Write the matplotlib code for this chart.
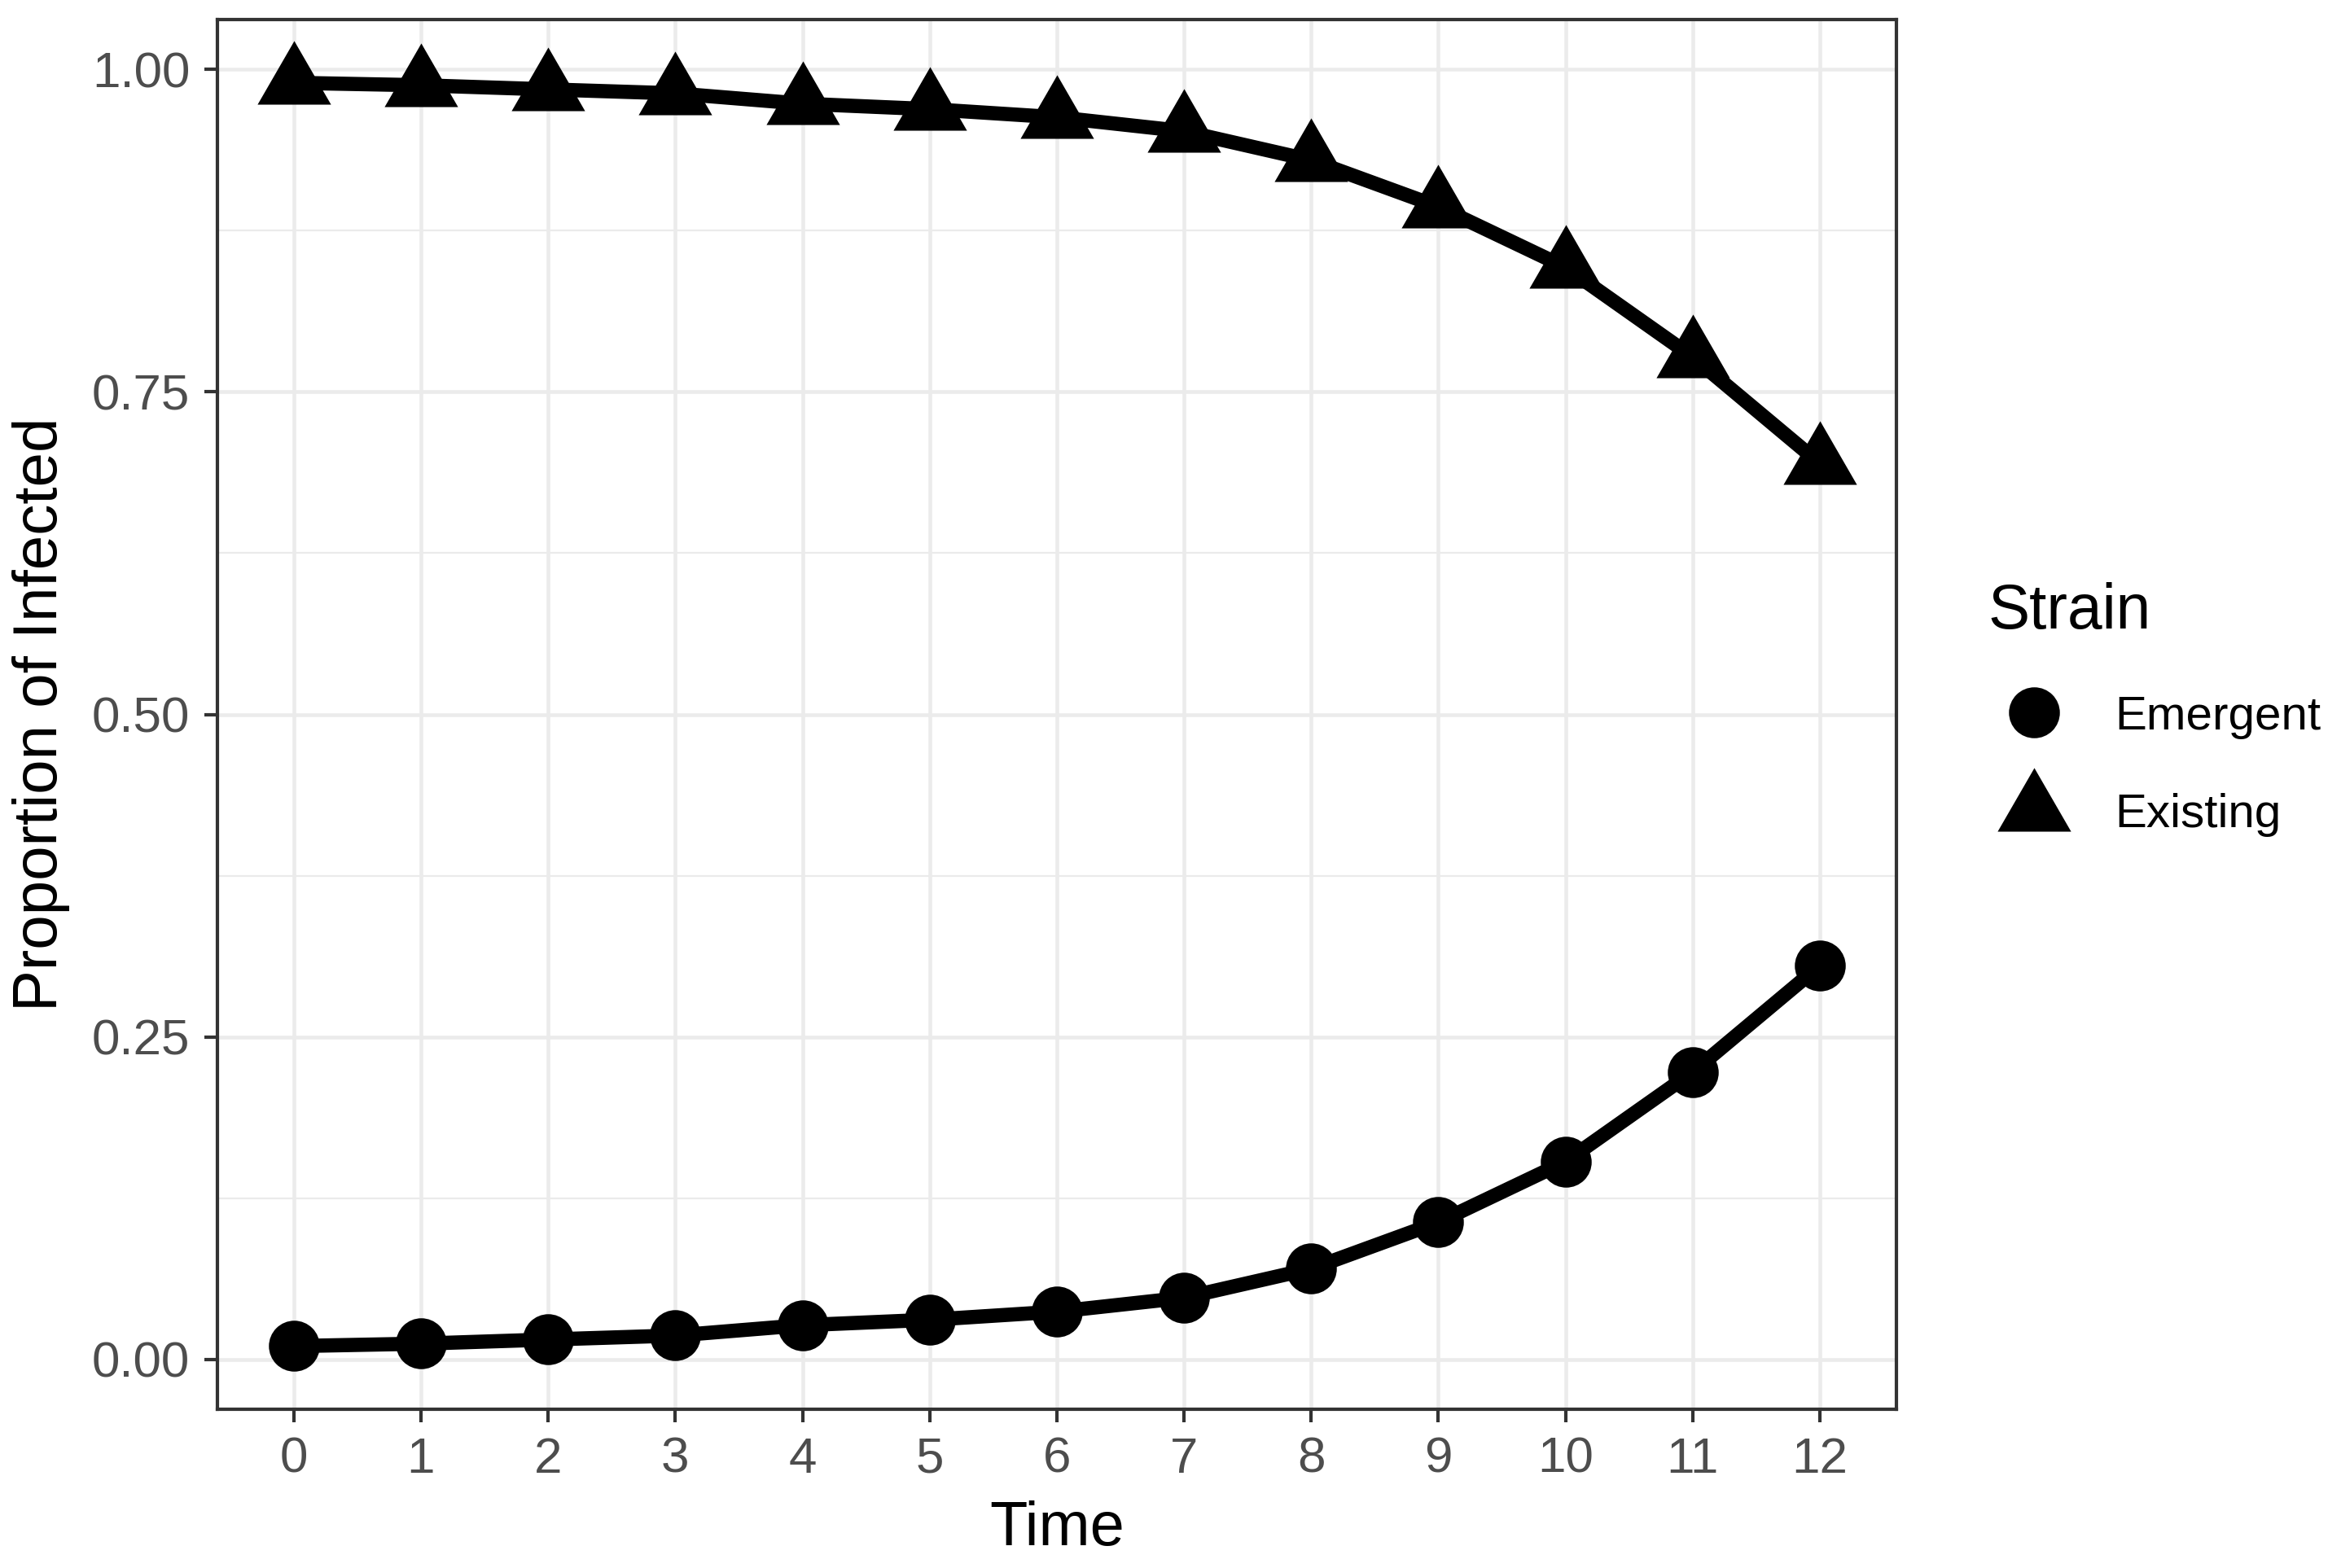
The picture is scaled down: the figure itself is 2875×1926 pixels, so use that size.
import matplotlib.pyplot as plt
from matplotlib.lines import Line2D

plt.rcParams['font.family'] = ['Liberation Sans', 'DejaVu Sans']

# data
time = list(range(13))
emergent = [0.0104, 0.0123, 0.0155, 0.0186, 0.0266, 0.0308, 0.0371,
            0.0479, 0.0704, 0.1064, 0.1534, 0.2229, 0.3054]
existing = [0.9896, 0.9877, 0.9845, 0.9814, 0.9734, 0.9692, 0.9629,
            0.9521, 0.9296, 0.8936, 0.8466, 0.7771, 0.6946]
strains = ["Emergent", "Existing"]
y_ticks = [0.0, 0.25, 0.5, 0.75, 1.0]
y_tick_labels = ["0.00", "0.25", "0.50", "0.75", "1.00"]
y_minor = [0.125, 0.375, 0.625, 0.875]

grid_col = '#EBEBEB'
frame_col = '#333333'
tri = (3, 0, 0)

fig = plt.figure(figsize=(2875 / 300, 1926 / 300), dpi=300)
ax = fig.add_axes([0.0929, 0.1012, 0.810 - 0.0929, 0.9875 - 0.1012])

ax.plot(time, emergent, color='black', lw=4.2, marker='o', ms=14, zorder=3)
ax.plot(time, existing, color='black', lw=4.2, marker=tri, ms=23, zorder=3)

ax.set_xlim(-0.6, 12.6)
ax.set_ylim(-0.0386, 1.0386)
ax.set_xticks(time)
ax.set_xticklabels([str(t) for t in time])
ax.set_yticks(y_ticks)
ax.set_yticklabels(y_tick_labels)
ax.set_yticks(y_minor, minor=True)

ax.grid(True, which='major', color=grid_col, lw=1.1, zorder=0)
ax.grid(True, which='minor', axis='y', color=grid_col, lw=0.55, zorder=0)
ax.set_axisbelow(True)

for s in ax.spines.values():
    s.set_color(frame_col)
    s.set_linewidth(1.0)

ax.tick_params(axis='both', which='major', length=3.8, width=1.0, color=frame_col,
               labelsize=14.9, labelcolor='#4D4D4D', pad=4.3)
ax.tick_params(axis='y', which='minor', length=0)

ax.set_xlabel('Time', fontsize=18.2, color='black', labelpad=5)
ax.set_ylabel('Proportion of Infected', fontsize=18.3, color='black', labelpad=6.5)

handles = [Line2D([], [], color='black', ls='none', marker='o', ms=14),
           Line2D([], [], color='black', ls='none', marker=tri, ms=23)]
leg = fig.legend(handles, strains, title='Strain', loc='upper left',
                 bbox_to_anchor=(0.839, 0.644), frameon=False, fontsize=14,
                 title_fontsize=18.4, borderpad=0, handlelength=1.93,
                 handletextpad=0.74, labelspacing=1.13, alignment='left')

fig.savefig('out.png', dpi=300)
